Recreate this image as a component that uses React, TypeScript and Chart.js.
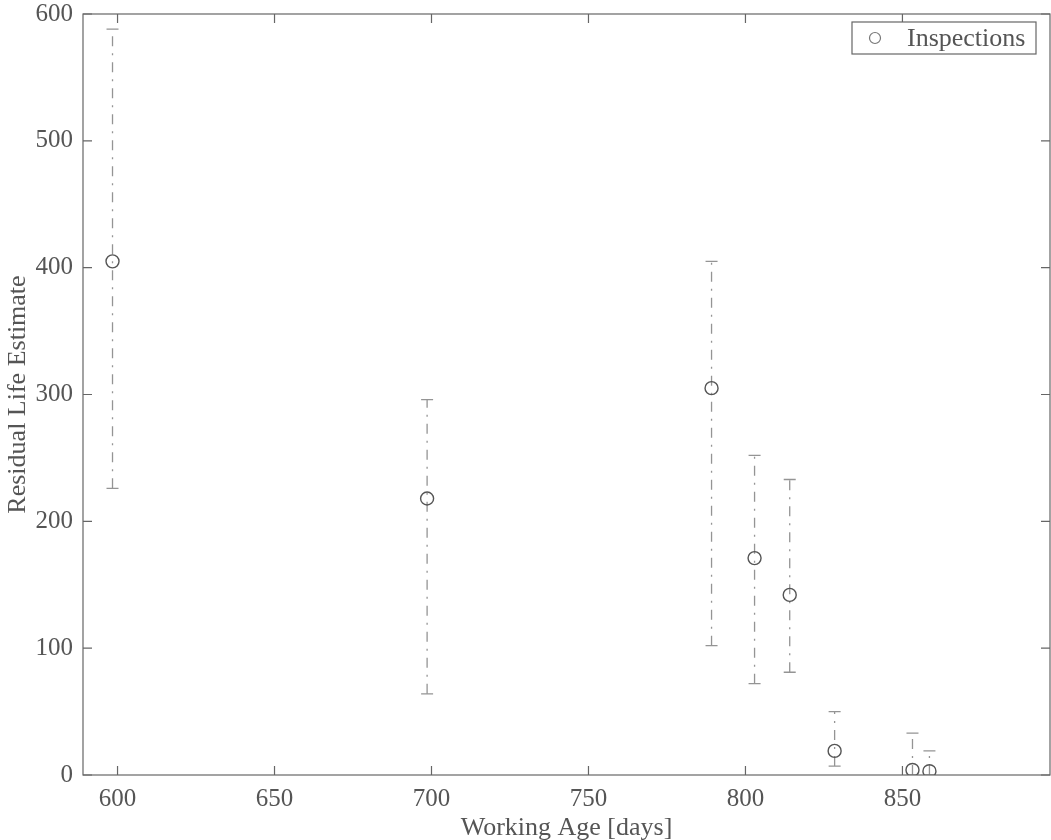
import React, { useEffect, useRef } from "react";
import { Chart, registerables } from "chart.js";

Chart.register(...registerables);

// ---- data ----
const workingAge = [598.4, 698.6, 789.2, 802.9, 814.1, 828.4, 853.2, 858.6];
const residualLife = [405, 218, 305, 171, 142, 19, 4, 3];
const upperBound = [588, 296, 405, 252, 233, 50, 33, 19];
const lowerBound = [226, 64, 102, 72, 81, 7, 0, 0];
const xTicks = [600, 650, 700, 750, 800, 850];
const yTicks = [0, 100, 200, 300, 400, 500, 600];
const seriesLabel = "Inspections";
const xTitle = "Working Age [days]";
const yTitle = "Residual Life Estimate";

const FONT = "'Liberation Serif', 'Times New Roman', serif";
const TEXT = "#555555";
const AXIS = "#666666";
const BAR = "#949494";
const MARK = "#555555";

const decorPlugin = {
  id: "decor",
  beforeDatasetsDraw(chart: any) {
    const { ctx, chartArea: a, scales } = chart;
    const x = scales.x;
    const y = scales.y;
    ctx.save();
    ctx.beginPath();
    ctx.rect(a.left, a.top - 2, a.right - a.left, a.bottom - a.top + 2);
    ctx.clip();
    ctx.strokeStyle = BAR;
    ctx.lineWidth = 1.3;
    workingAge.forEach((v, i) => {
      const px = x.getPixelForValue(v);
      const lo = y.getPixelForValue(lowerBound[i]);
      const hi = y.getPixelForValue(upperBound[i]);
      ctx.setLineDash([10, 7, 2, 7]);
      ctx.beginPath();
      ctx.moveTo(px, lo);
      ctx.lineTo(px, hi);
      ctx.stroke();
      ctx.setLineDash([]);
      ctx.beginPath();
      ctx.moveTo(px - 6, lo);
      ctx.lineTo(px + 6, lo);
      ctx.moveTo(px - 6, hi);
      ctx.lineTo(px + 6, hi);
      ctx.stroke();
    });
    ctx.restore();
  },
  afterDraw(chart: any) {
    const { ctx, chartArea: a, scales } = chart;
    const x = scales.x;
    const y = scales.y;
    ctx.save();
    ctx.strokeStyle = AXIS;
    ctx.lineWidth = 1.2;
    ctx.setLineDash([]);
    // frame
    ctx.strokeRect(a.left, a.top, a.right - a.left, a.bottom - a.top);
    // inward ticks
    const tl = 9;
    ctx.beginPath();
    xTicks.forEach((v) => {
      const px = x.getPixelForValue(v);
      ctx.moveTo(px, a.bottom);
      ctx.lineTo(px, a.bottom - tl);
      ctx.moveTo(px, a.top);
      ctx.lineTo(px, a.top + tl);
    });
    yTicks.forEach((v) => {
      const py = y.getPixelForValue(v);
      ctx.moveTo(a.left, py);
      ctx.lineTo(a.left + tl, py);
      ctx.moveTo(a.right, py);
      ctx.lineTo(a.right - tl, py);
    });
    ctx.stroke();

    // legend
    const bx = 852;
    const by = 22;
    const bw = 184;
    const bh = 32;
    ctx.fillStyle = "#ffffff";
    ctx.fillRect(bx, by, bw, bh);
    ctx.strokeStyle = AXIS;
    ctx.lineWidth = 1.2;
    ctx.strokeRect(bx, by, bw, bh);
    ctx.beginPath();
    ctx.strokeStyle = "#777777";
    ctx.arc(bx + 23, by + bh / 2, 5.5, 0, Math.PI * 2);
    ctx.stroke();
    ctx.fillStyle = TEXT;
    ctx.font = `26px ${FONT}`;
    ctx.textBaseline = "middle";
    ctx.textAlign = "left";
    ctx.fillText(seriesLabel, bx + 55, by + bh / 2 + 1);
    ctx.restore();
  },
};

export default function App() {
  const ref = useRef<HTMLCanvasElement | null>(null);

  useEffect(() => {
    if (!ref.current) return;
    const chart = new Chart(ref.current, {
      type: "scatter",
      data: {
        datasets: [
          {
            label: seriesLabel,
            data: workingAge.map((v, i) => ({ x: v, y: residualLife[i] })),
            pointStyle: "circle",
            pointRadius: 6.5,
            pointBorderWidth: 1.4,
            pointBorderColor: MARK,
            pointBackgroundColor: "rgba(0,0,0,0)",
            showLine: false,
          },
        ],
      },
      options: {
        animation: false,
        responsive: false,
        devicePixelRatio: 1,
        layout: { autoPadding: false, padding: { top: 14, left: 0, right: 1, bottom: 0 } },
        plugins: {
          legend: { display: false },
          tooltip: { enabled: false },
        },
        scales: {
          x: {
            type: "linear",
            min: 589,
            max: 897,
            afterBuildTicks: (ax: any) => {
              ax.ticks = xTicks.map((v) => ({ value: v }));
            },
            afterFit: (ax: any) => {
              ax.height = 65;
              ax.paddingLeft = 0;
              ax.paddingRight = 0;
            },
            grid: { display: false, drawTicks: false },
            border: { display: false },
            ticks: {
              font: { family: FONT, size: 25 },
              color: TEXT,
              padding: 9,
              maxRotation: 0,
              autoSkip: false,
            },
            title: {
              display: true,
              text: xTitle,
              font: { family: FONT, size: 26 },
              color: TEXT,
              padding: { top: 0, bottom: -4 },
            },
          },
          y: {
            type: "linear",
            min: 0,
            max: 600,
            afterBuildTicks: (ax: any) => {
              ax.ticks = yTicks.map((v) => ({ value: v }));
            },
            afterFit: (ax: any) => {
              ax.width = 83;
              ax.paddingTop = 0;
              ax.paddingBottom = 0;
            },
            grid: { display: false, drawTicks: false },
            border: { display: false },
            ticks: {
              font: { family: FONT, size: 25 },
              color: TEXT,
              padding: 10,
              autoSkip: false,
            },
            title: {
              display: true,
              text: yTitle,
              font: { family: FONT, size: 26 },
              color: TEXT,
              padding: { top: 3, bottom: 0 },
            },
          },
        },
      },
      plugins: [decorPlugin],
    });
    return () => chart.destroy();
  }, []);

  return (
    <div style={{ position: "absolute", left: 0, top: 0, width: 1051, height: 840, background: "#fff" }}>
      <canvas ref={ref} width={1051} height={840} style={{ display: "block" }} />
    </div>
  );
}
